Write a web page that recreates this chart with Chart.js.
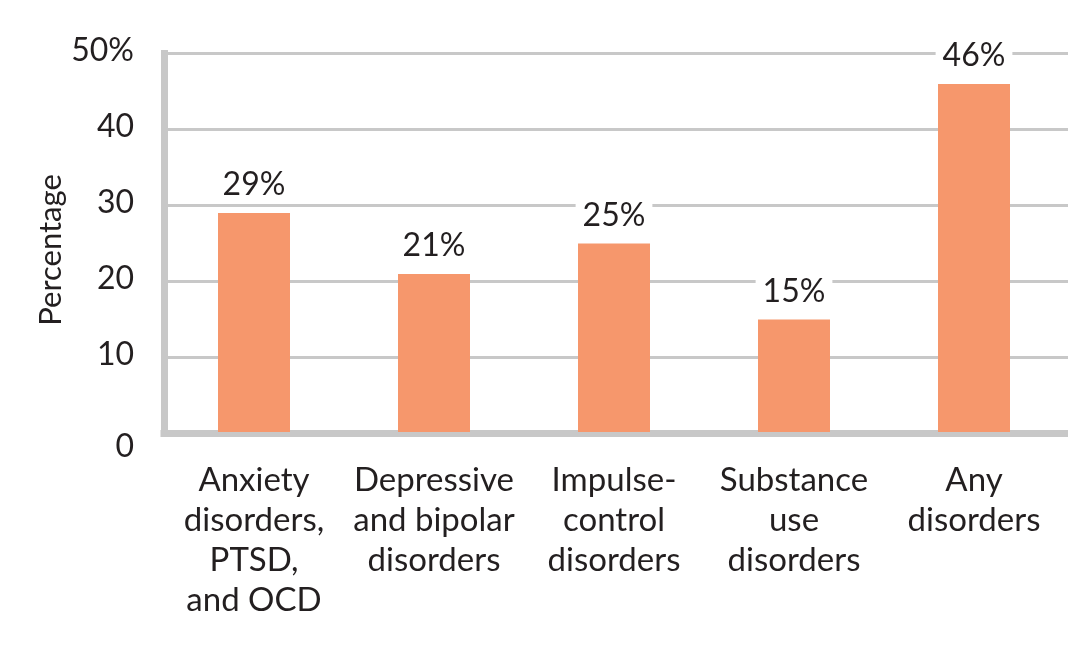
<!DOCTYPE html>
<html>
<head>
<meta charset="utf-8">
<script src="https://cdn.jsdelivr.net/npm/chart.js@4.4.1/dist/chart.umd.min.js"></script>
<style>
  html, body { margin: 0; padding: 0; background: #fff; }
  #wrap { width: 1089px; height: 659px; position: relative; }
</style>
</head>
<body>
<div id="wrap"><canvas id="grafico"></canvas></div>
<script>
// ---------- dados ----------
const categorias = [
    ['Anxiety', 'disorders,', 'PTSD,', 'and OCD'],
    ['Depressive', 'and bipolar', 'disorders'],
    ['Impulse-', 'control', 'disorders'],
    ['Substance', 'use', 'disorders'],
    ['Any', 'disorders']
];
const valores = [29, 21, 25, 15, 46];
const ticksY = [0, 10, 20, 30, 40, 50];
const rotulosY = ['0', '10', '20', '30', '40', '50%'];

const corTexto = '#231f20';
const corGrade = '#c8c8c8';
const fonte = 'Lato, "Noto Sans", sans-serif';

// rótulos do eixo y, título e valores em cima das barras
const desenhosExtras = {
    id: 'desenhosExtras',
    afterDatasetsDraw(chart) {
        const ctx = chart.ctx;
        const y = chart.scales.y;
        const area = chart.chartArea;
        ctx.save();

        // canto do eixo e ponta direita da grade
        ctx.fillStyle = corGrade;
        ctx.fillRect(area.left - 3.5, area.bottom - 3.5, 4, 7);
        ticksY.forEach(v => {
            if (v === 0) return;
            ctx.fillRect(area.right, y.getPixelForValue(v) - 1.5, 4, 3);
        });
        ctx.fillRect(area.right, area.bottom - 3.5, 4, 7);

        ctx.fillStyle = corTexto;
        ctx.font = '32px ' + fonte;
        ctx.textAlign = 'right';
        ctx.textBaseline = 'middle';
        ticksY.forEach((v, i) => {
            const py = y.getPixelForValue(v) + (v === 0 ? 13 : -3);
            ctx.fillText(rotulosY[i], 134, py);
        });

        // título
        ctx.save();
        ctx.translate(51, 250);
        ctx.rotate(-Math.PI / 2);
        ctx.textAlign = 'center';
        ctx.font = '31px ' + fonte;
        ctx.fillText('Percentage', 0, 0);
        ctx.restore();

        // valores
        const meta = chart.getDatasetMeta(0);
        ctx.textAlign = 'center';
        ctx.font = '32px ' + fonte;
        meta.data.forEach((bar, i) => {
            const txt = valores[i] + '%';
            const w = ctx.measureText(txt).width;
            const cy = bar.y - 28;
            ctx.fillStyle = '#fff';
            ctx.fillRect(bar.x - w / 2 - 7, cy - 17, w + 14, 34);
            ctx.fillStyle = corTexto;
            ctx.fillText(txt, bar.x, cy);
        });
        ctx.restore();
    }
};

const grafico = new Chart(document.getElementById('grafico'), {
    type: 'bar',
    data: {
        labels: categorias,
        datasets: [{
            data: valores,
            backgroundColor: '#f6976c',
            barPercentage: 0.4,
            categoryPercentage: 1.0
        }]
    },
    options: {
        responsive: true,
        maintainAspectRatio: false,
        animation: false,
        layout: { padding: { top: 53.5, right: 25, left: 0, bottom: 0 } },
        plugins: { legend: { display: false }, tooltip: { enabled: false } },
        scales: {
            x: {
                z: 1,
                grid: { display: false, drawTicks: false },
                border: { color: corGrade, width: 7 },
                ticks: {
                    color: corTexto,
                    font: { family: fonte, size: 33, lineHeight: 1.21 },
                    padding: 27,
                    maxRotation: 0,
                    autoSkip: false
                },
                afterFit(scale) { scale.height = 225.5; }
            },
            y: {
                min: 0,
                max: 50,
                afterBuildTicks(scale) { scale.ticks = ticksY.map(v => ({ value: v })); },
                grid: { color: corGrade, lineWidth: 3, drawTicks: false },
                border: { color: corGrade, width: 7 },
                ticks: { display: false },
                afterFit(scale) { scale.width = 164; }
            }
        }
    },
    plugins: [desenhosExtras]
});
</script>
</body>
</html>
